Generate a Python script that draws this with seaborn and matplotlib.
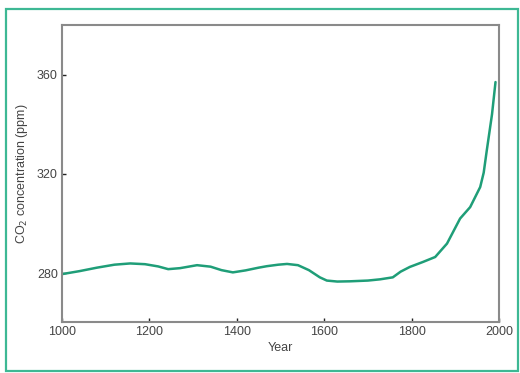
import numpy as np
import pandas as pd
import matplotlib
matplotlib.use('Agg')
import matplotlib.pyplot as plt
import seaborn as sns
from matplotlib.patches import Rectangle

# valores
anos = [1000, 1040, 1080, 1120, 1156, 1190, 1220, 1243, 1270, 1309, 1340, 1365, 1391,
        1420, 1450, 1469, 1495, 1515, 1540, 1565, 1590, 1606, 1630, 1659, 1700, 1728,
        1757, 1775, 1796, 1826, 1854, 1881, 1911, 1934, 1957, 1965, 1972, 1984, 1992]
co2 = [279.6, 280.8, 282.2, 283.4, 283.9, 283.6, 282.7, 281.6, 282.0, 283.2, 282.6, 281.2, 280.3,
       281.1, 282.2, 282.8, 283.4, 283.7, 283.2, 281.2, 278.3, 277.0, 276.6, 276.7, 277.0, 277.5,
       278.3, 280.6, 282.5, 284.5, 286.5, 291.9, 302.0, 306.6, 314.7, 320.5, 329.4, 344.0, 357.0]

df = pd.DataFrame({'Year': anos, 'CO2': co2})

sns.set_style('white')
plt.rcParams['font.family'] = ['Liberation Sans', 'DejaVu Sans']

fig = plt.figure(figsize=(5.2, 3.73), dpi=100)
# moldura verde externa
fig.patches.append(Rectangle((6/520, 0.005), 512/520, 1 - 9/373 - 0.005, transform=fig.transFigure,
                             fill=False, edgecolor='#3db894', linewidth=1.6))

ax = fig.add_axes([62/520, 1 - 322/373, 437/520, 297/373])
sns.lineplot(data=df, x='Year', y='CO2', color='#1f9e78', linewidth=1.8, ax=ax)

ax.set_xlim(1000, 2000)
ax.set_ylim(260.3, 380)
ax.set_xticks([1000, 1200, 1400, 1600, 1800, 2000])
ax.set_yticks([280, 320, 360])
ax.tick_params(direction='in', length=3, width=1, color='#222', labelsize=9,
               labelcolor='#444', left=True, bottom=True, pad=3)
for s in ax.spines.values():
    s.set_color('#8a8a8a')
    s.set_linewidth(1.5)
    s.set_visible(True)

ax.set_xlabel('Year', fontsize=9, color='#444', labelpad=3)
ax.set_ylabel('CO$_2$ concentration (ppm)', fontsize=9, color='#444', labelpad=5)

plt.savefig('out.png', dpi=100)
